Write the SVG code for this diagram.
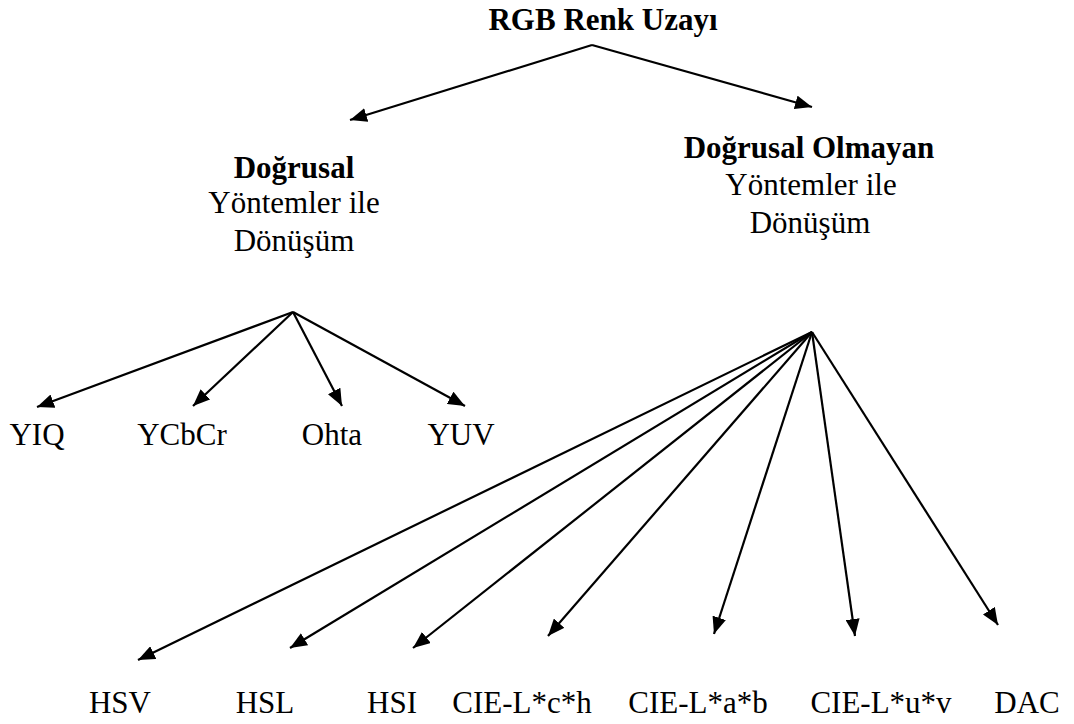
<svg xmlns="http://www.w3.org/2000/svg" width="1074" height="724" viewBox="0 0 1074 724">
<style>
text{font-family:"Liberation Serif","Times New Roman",serif;font-size:31px;fill:#000;text-anchor:middle}
.b{font-weight:bold}
.c line{stroke:#000;stroke-width:2.2;marker-end:url(#ah)}
</style>
<defs>
<marker id="ah" markerUnits="userSpaceOnUse" markerWidth="18" markerHeight="14" refX="17" refY="7" orient="auto">
<path d="M0,0 L17,7 L0,14 z" fill="#000"/>
</marker>
</defs>
<rect width="1074" height="724" fill="#fff"/>
<g id="root"><text class="b" x="603" y="30">RGB Renk Uzay&#305;</text></g>
<g id="linear">
<text class="b" x="294" y="178">Do&#287;rusal</text>
<text x="294" y="213">Y&#246;ntemler ile</text>
<text x="294" y="251">D&#246;n&#252;&#351;&#252;m</text>
</g>
<g id="nonlinear">
<text class="b" x="809" y="158">Do&#287;rusal Olmayan</text>
<text x="811" y="195">Y&#246;ntemler ile</text>
<text x="810" y="233">D&#246;n&#252;&#351;&#252;m</text>
</g>
<g id="yiq"><text x="37" y="445">YIQ</text></g>
<g id="ycbcr"><text x="182" y="445">YCbCr</text></g>
<g id="ohta"><text x="332" y="445">Ohta</text></g>
<g id="yuv"><text x="461" y="445">YUV</text></g>
<g id="hsv"><text x="120" y="713">HSV</text></g>
<g id="hsl"><text x="265" y="713">HSL</text></g>
<g id="hsi"><text x="392" y="713">HSI</text></g>
<g id="cielch"><text x="522" y="713">CIE-L*c*h</text></g>
<g id="cielab"><text x="698" y="713">CIE-L*a*b</text></g>
<g id="cieluv"><text x="881" y="713">CIE-L*u*v</text></g>
<g id="dac"><text x="1027" y="713">DAC</text></g>
<g class="c" id="connectors">
<line x1="592" y1="45" x2="350" y2="120"/>
<line x1="592" y1="45" x2="812" y2="107"/>
<line x1="293" y1="312" x2="37" y2="407"/>
<line x1="293" y1="312" x2="193" y2="406"/>
<line x1="293" y1="312" x2="342" y2="406"/>
<line x1="293" y1="312" x2="465" y2="406"/>
<line x1="812" y1="332" x2="138" y2="660"/>
<line x1="812" y1="332" x2="290" y2="648"/>
<line x1="812" y1="332" x2="413" y2="648"/>
<line x1="812" y1="332" x2="548" y2="636"/>
<line x1="812" y1="332" x2="714" y2="634"/>
<line x1="812" y1="332" x2="855" y2="636"/>
<line x1="812" y1="332" x2="998" y2="625"/>
</g>
</svg>
